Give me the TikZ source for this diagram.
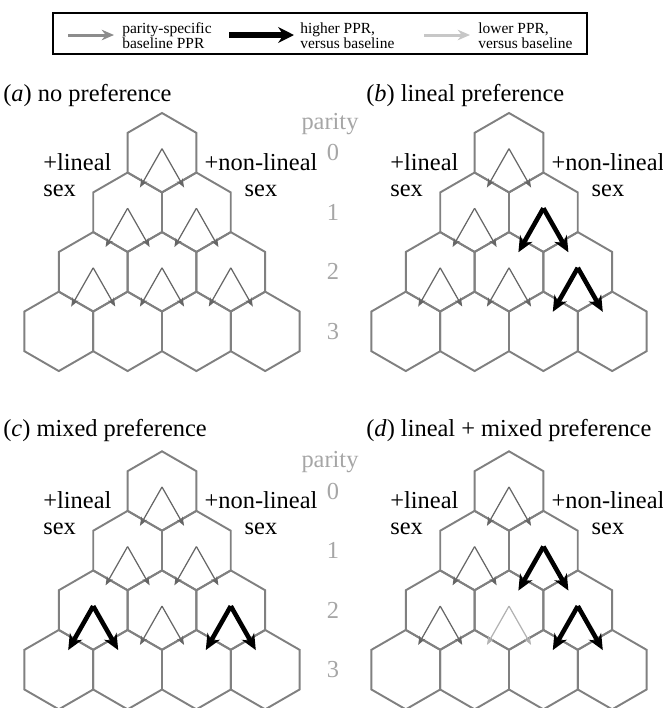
\documentclass[tikz,border=0pt]{standalone}
\usepackage{fontspec}
\setmainfont{Liberation Serif}
\usetikzlibrary{shapes.geometric,arrows.meta}

\begin{document}
\begin{tikzpicture}[x=0.02cm,y=-0.02cm,font=\fontsize{13.9pt}{14.8pt}\selectfont,
  hex/.style={regular polygon,regular polygon sides=6,rotate=30,minimum size=1.588cm,inner sep=0pt,outer sep=0pt,draw=black!50,line width=1.1pt},
  ppr base/.style={draw=black!60,line width=0.7pt,-{Stealth[length=5pt,width=3.8pt,fill=black!80]},shorten >=3.4pt},
  ppr high/.style={draw=black,line width=2.6pt,-{Stealth[length=9pt,width=8pt]}},
  ppr low/.style={draw=black!30,line width=0.7pt,-{Stealth[length=5pt,width=3.8pt]},shorten >=3.4pt},
  key label/.style={anchor=west,align=left,inner sep=0pt,font=\fontsize{8.8pt}{8.5pt}\selectfont},
  parity label/.style={text=black!35,inner sep=0pt}]

  \useasboundingbox (0,0) rectangle (663,708);

  % legend
  \draw[line width=0.85pt] (53,13) rectangle (587,54);
  \coordinate (key1 s) at (68,35);  \coordinate (key1 e) at (114,35);
  \coordinate (key2 s) at (229,35); \coordinate (key2 e) at (294,35);
  \coordinate (key3 s) at (424,35); \coordinate (key3 e) at (470,35);
  \draw[draw=black!45,line width=1.7pt,-{Stealth[length=7pt,width=6pt,fill=black!70]}] (key1 s) -- (key1 e);
  \draw[draw=black,line width=3.8pt,-{Stealth[length=9pt,width=9pt]}] (key2 s) -- (key2 e);
  \draw[draw=black!22,line width=1.7pt,-{Stealth[length=7pt,width=6pt]}] (key3 s) -- (key3 e);
  \node[key label] (key1) at (122,36) {parity-specific\\baseline PPR};
  \node[key label] (key2) at (300,36) {higher PPR,\\versus baseline};
  \node[key label] (key3) at (478,36) {lower PPR,\\versus baseline};

  % panel titles
  \node[anchor=base west,inner sep=0pt] (title a) at (3,101) {(\textit{a}) no preference};
  \node[anchor=base west,inner sep=0pt] (title b) at (366,101) {(\textit{b}) lineal preference};
  \node[anchor=base west,inner sep=0pt] (title c) at (3,436) {(\textit{c}) mixed preference};
  \node[anchor=base west,inner sep=0pt] (title d) at (366,436) {(\textit{d}) lineal + mixed preference};

  % hexagon pyramids
  \foreach \p/\px/\py in {a/162/152.7,b/509/152.7,c/162/491,d/509/491}{
    \foreach \r in {0,...,3}
      \foreach \c in {0,...,\r}
        \node[hex] (\p-\r-\c) at ({\px+(2*\c-\r)*34.4},{\py+\r*59.55}) {};
    \node[anchor=west,align=left,inner sep=0pt] (\p-lin) at (\px-119,\py+22) {+lineal\\sex};
    \node[align=center,inner sep=0pt] (\p-non) at (\px+99,\py+22) {+non-lineal\\sex};
  }

  % parity column
  \foreach \q/\py in {u/152.7,l/491}{
    \node[parity label] (par \q) at (330,\py-29) {parity};
    \foreach \r in {0,...,3}
      \node[parity label] (par \q\r) at (333,{\py+\r*59.55}) {\r};
  }

  % arrows
  \foreach \h/\k in {a-0-0/base,a-1-0/base,a-1-1/base,a-2-0/base,a-2-1/base,a-2-2/base,
                     b-0-0/base,b-1-0/base,b-1-1/high,b-2-0/base,b-2-1/base,b-2-2/high,
                     c-0-0/base,c-1-0/base,c-1-1/base,c-2-0/high,c-2-1/base,c-2-2/high,
                     d-0-0/base,d-1-0/base,d-1-1/high,d-2-0/base,d-2-1/low,d-2-2/high}{
    \path (\h) ++(0,-4) coordinate (\h-o) +(-25,44) coordinate (\h-l) +(25,44) coordinate (\h-r);
    \draw[ppr \k] (\h-o) -- (\h-l);
    \draw[ppr \k] (\h-o) -- (\h-r);
  }

\end{tikzpicture}
\end{document}
